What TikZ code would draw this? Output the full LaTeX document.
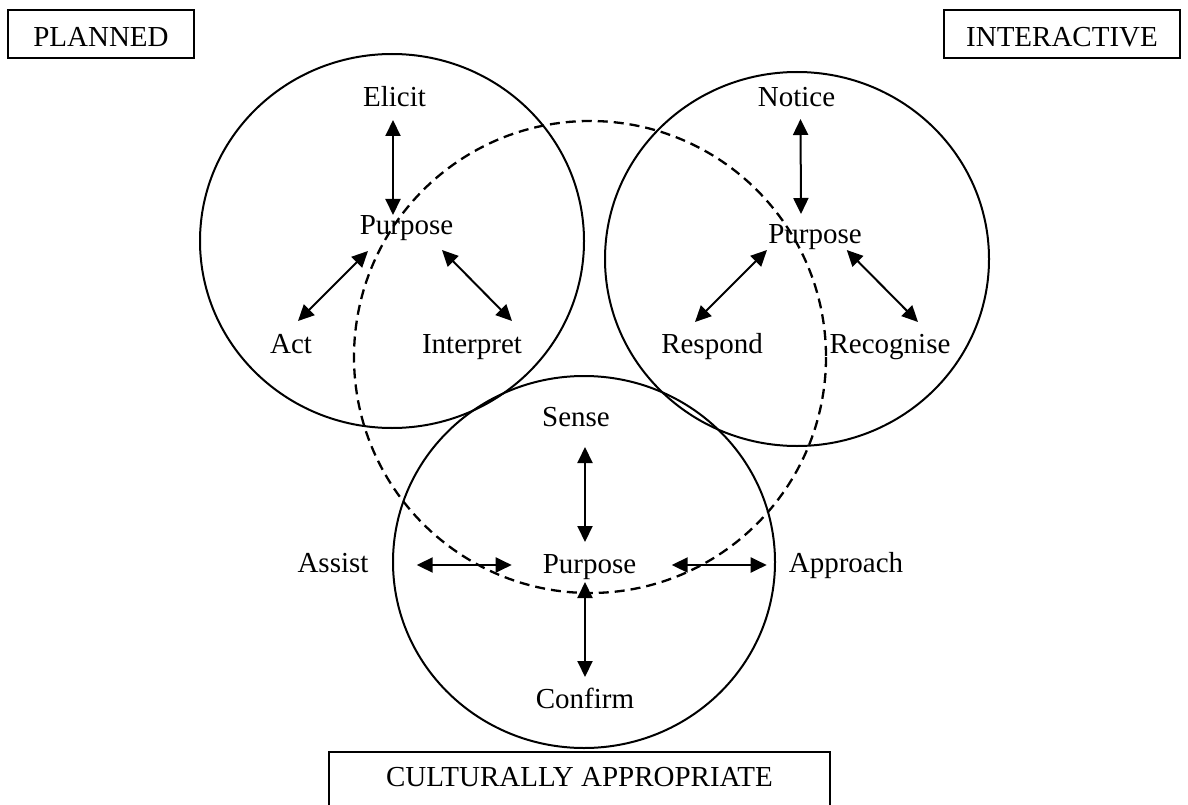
\documentclass[tikz,border=0pt]{standalone}
\usepackage{fontspec}
\setmainfont{Liberation Serif}
\usetikzlibrary{arrows.meta}

\begin{document}
\begin{tikzpicture}[x=1pt,y=-1pt,
  lbl/.style={inner sep=0pt,anchor=base,font=\fontsize{29}{33}\selectfont},
  tag/.style={draw,line width=2.4pt,inner sep=0pt,text height=26pt,text depth=0pt,font=\fontsize{29}{33}\selectfont},
  ring/.style={line width=2pt},
  dub/.style={{Triangle[length=16pt,width=15pt]}-{Triangle[length=16pt,width=15pt]},line width=2pt}]
  \clip (0,0) rectangle (1188,805);
  \draw[ring] (392,241) ellipse [x radius=192,y radius=187];
  \draw[ring] (797,259) ellipse [x radius=192,y radius=187];
  \draw[ring] (584,562) ellipse [x radius=191,y radius=186];
  \draw[ring,line width=2.3pt,dash pattern=on 10pt off 6pt] (590,357) circle [radius=236];
  \node[tag,minimum width=186,minimum height=48] (planned) at (101,34) {PLANNED};
  \node[tag,minimum width=236,minimum height=48] (interactive) at (1062,34) {INTERACTIVE};
  \node[tag,minimum width=501,minimum height=70,text depth=28pt] (culture) at (579.5,787) {CULTURALLY APPROPRIATE};
  % planned
  \node[lbl] (elicit) at (394.5,107) {Elicit};
  \node[lbl] (plP) at (406.5,234) {Purpose};
  \node[lbl] (act) at (291,353) {Act};
  \node[lbl] (interp) at (472,353) {Interpret};
  \draw[dub] ([shift={(-1.5,13)}]elicit.base) -- ([shift={(-13.5,-19)}]plP.base);
  \draw[dub] ([shift={(-38.5,17)}]plP.base) -- ([shift={(7,-32)}]act.base);
  \draw[dub] ([shift={(35.5,16)}]plP.base) -- ([shift={(40,-32)}]interp.base);
  % interactive
  \node[lbl] (notice) at (796.5,107) {Notice};
  \node[lbl] (prP) at (815,243) {Purpose};
  \node[lbl] (respond) at (712,353) {Respond};
  \node[lbl] (recog) at (890,353) {Recognise};
  \draw[dub] ([shift={(4,12)}]notice.base) -- ([shift={(-14,-29)}]prP.base);
  \draw[dub] ([shift={(-48,7)}]prP.base) -- ([shift={(-17,-31)}]respond.base);
  \draw[dub] ([shift={(31.7,7)}]prP.base) -- ([shift={(28,-31)}]recog.base);
  % culturally appropriate
  \node[lbl] (sense) at (576,426) {Sense};
  \node[lbl] (pbP) at (589.5,573) {Purpose};
  \node[lbl] (confirm) at (585,708) {Confirm};
  \node[lbl] (assist) at (333,572) {Assist};
  \node[lbl] (approach) at (846,572) {Approach};
  \draw[dub] ([shift={(9,21)}]sense.base) -- ([shift={(-4.5,-31)}]pbP.base);
  \draw[dub] ([shift={(-4.5,9)}]pbP.base) -- ([shift={(0,-31)}]confirm.base);
  \draw[dub] ([shift={(83.7,-7)}]assist.base) -- ([shift={(-77.8,-8)}]pbP.base);
  \draw[dub] ([shift={(82.2,-8)}]pbP.base) -- ([shift={(-79.3,-7)}]approach.base);
\end{tikzpicture}
\end{document}
